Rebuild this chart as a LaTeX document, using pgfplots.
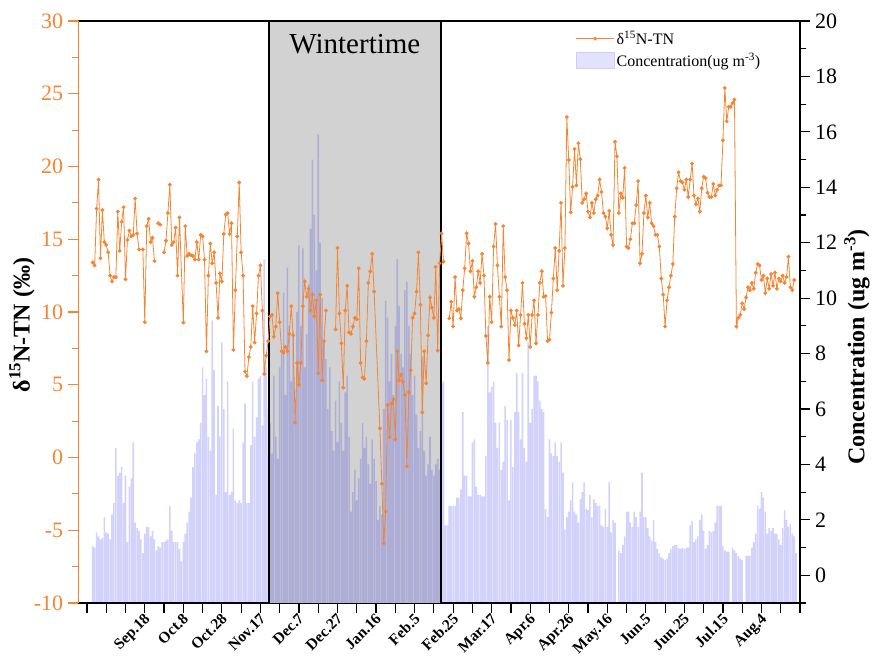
\documentclass[border=0pt]{standalone}
\usepackage{fontspec}
\setmainfont{Liberation Serif}
\usepackage{pgfplots}
\usepackage{pgfplotstable}
\pgfplotsset{compat=1.18}
\definecolor{lorange}{RGB}{245,133,50}
\definecolor{barc}{RGB}{18,18,228}
\definecolor{wgrey}{RGB}{210,210,210}
\pgfplotsset{longline legend/.style={legend image code/.code={\draw[mark repeat=2,mark phase=2,##1] plot coordinates {(0pt,0pt) (19pt,0pt) (38pt,0pt)};}}}

% daily concentration (ug m-3); d = days after Aug.19
\pgfplotstableread{
d c
3 1.05
4 1.0
5 1.55
6 1.4
7 1.3
8 1.35
9 2.1
10 1.55
11 1.5
12 1.3
13 2.2
14 2.6
15 4.6
16 3.6
17 3.7
18 3.9
19 2.6
20 3.6
21 1.2
22 3.2
23 3.5
24 4.8
25 1.9
26 1.7
27 1.6
28 1.3
29 0.8
30 1.5
31 1.75
32 1.75
33 1.4
34 1.6
35 1.3
36 0.9
37 1.05
38 1.0
39 1.2
40 1.2
41 1.25
42 1.3
43 2.5
44 1.6
45 1.2
46 1.2
47 1.2
48 0.95
49 0.5
50 1.2
51 1.5
52 1.9
53 2.3
54 2.8
55 3.9
56 4.4
57 4.8
58 4.9
59 5.5
60 7.5
61 6.5
62 7.1
63 5.0
64 4.5
65 9.2
66 7.4
67 2.9
68 6.1
69 5.0
70 8.4
71 6.0
72 3.0
73 7.0
74 2.9
75 3.0
76 5.3
77 2.7
78 2.6
79 2.7
80 2.6
81 4.8
82 6.2
83 2.6
84 2.6
85 4.7
86 7.0
87 5.0
88 5.7
89 7.1
90 7.2
91 5.4
92 11.4
93 7.5
94 6.0
95 5.5
96 4.4
97 7.2
98 5.0
99 4.2
100 7.5
101 8.0
102 10.2
103 6.5
104 11.1
105 9.0
106 7.0
107 8.8
108 6.0
109 9.5
110 11.9
111 9.0
112 11.8
113 7.5
114 8.7
115 10.5
116 12.5
117 15.0
118 13.0
119 11.0
120 15.9
121 12.0
122 10.0
123 8.5
124 7.8
125 6.0
126 7.5
127 5.2
128 4.5
129 6.3
130 4.8
131 7.0
132 5.5
133 4.5
134 6.6
135 7.2
136 5.0
137 2.3
138 3.0
139 3.8
140 2.7
141 3.5
142 4.2
143 5.5
144 4.6
145 5.0
146 4.0
147 3.3
148 4.9
149 4.2
150 3.4
151 2.0
152 2.5
153 2.2
154 6.0
155 9.9
156 9.3
157 7.0
158 8.0
159 6.5
160 9.0
161 11.4
162 9.7
163 8.0
164 7.5
165 10.3
166 10.6
167 9.0
168 8.0
169 6.5
170 7.2
171 5.8
172 4.6
173 5.2
174 7.9
175 4.5
176 3.6
177 4.0
178 5.0
179 3.8
180 3.6
181 4.0
182 4.2
183 3.8
184 6.9
185 7.0
186 1.8
187 1.8
188 2.5
189 2.5
190 2.5
191 2.5
192 2.8
193 2.8
194 3.1
195 5.9
196 3.6
197 3.6
198 2.85
199 2.85
200 4.8
201 4.9
202 3.2
203 2.9
204 2.9
205 2.85
206 2.85
207 4.3
208 9.0
209 6.6
210 6.8
211 7.0
212 5.5
213 4.6
214 5.5
215 3.8
216 4.1
217 6.1
218 5.6
219 2.7
220 5.6
221 3.9
222 5.9
223 7.3
224 5.9
225 4.9
226 7.3
227 4.6
228 4.1
229 8.4
230 5.5
231 6.0
232 7.2
233 7.2
234 7.0
235 6.3
236 6.0
237 5.9
238 2.4
239 2.1
240 4.9
241 4.4
242 4.3
243 4.8
244 4.3
245 4.1
246 4.8
247 3.7
248 1.65
249 2.1
250 2.3
251 2.7
252 3.35
253 2.3
254 2.2
255 1.9
256 2.75
257 3.0
258 3.35
259 2.4
260 2.35
261 2.9
262 2.1
263 2.75
264 2.6
265 2.5
266 2.5
267 1.8
268 1.75
269 2.4
270 1.75
271 3.35
272 1.55
273 2.0
274 1.9
276 0.9
277 0.8
278 1.1
279 1.4
280 2.3
281 2.3
282 1.9
283 1.75
284 2.3
285 2.1
286 1.75
287 2.3
288 3.7
289 2.1
290 2.1
291 1.7
292 1.4
293 1.25
294 2.0
295 1.2
296 0.95
297 0.8
298 0.65
299 0.6
300 0.55
301 0.6
302 0.8
303 0.95
304 1.05
305 1.1
306 1.1
307 1.0
308 0.95
309 1.0
310 0.95
311 1.0
312 1.0
313 1.8
314 1.95
315 1.2
316 1.3
317 1.4
318 2.0
319 2.2
320 1.6
321 0.95
322 1.1
323 1.6
324 1.55
325 1.6
326 1.9
327 2.5
328 2.5
329 2.5
330 1.05
331 0.9
332 0.85
333 0.85
335 1.0
336 0.9
337 0.8
338 0.7
339 0.6
340 0.55
342 0.7
343 0.7
344 0.7
345 1.0
346 1.2
347 1.5
348 2.5
349 2.4
350 3.0
351 2.8
352 2.3
353 1.5
354 1.7
355 1.6
356 1.7
357 1.5
358 1.5
359 1.3
360 1.1
361 1.7
362 2.35
363 2.0
364 1.75
365 1.85
366 1.5
367 1.4
368 0.8
}\conc

% delta 15N-TN (permil)
\pgfplotstableread{
d v
3 13.4
4 13.2
5 17.1
6 19.1
7 13.7
8 17.0
9 14.8
10 14.6
11 14.1
12 12.5
13 12.1
14 12.4
15 12.4
16 16.9
17 14.2
18 16.2
19 17.2
20 12.25
21 14.95
22 15.6
23 15.2
24 15.3
25 17.8
26 15.4
27 14.3
29 14.3
30 9.3
31 15.9
32 16.4
33 14.8
34 15.1
35 13.5
36 nan
37 16.1
38 16.0
39 nan
40 14.1
41 14.9
42 16.8
43 18.75
44 14.6
45 14.8
46 15.8
47 12.5
48 16.5
50 9.27
51 15.9
52 13.85
53 14.0
54 13.9
55 13.85
56 13.6
57 14.8
58 13.6
59 15.3
60 15.2
61 13.6
62 7.3
63 12.5
64 14.7
65 13.35
66 14.1
67 12.0
68 9.6
69 12.65
70 12.1
71 15.36
72 16.7
73 16.8
74 15.36
75 16.1
76 7.4
77 11.5
78 15.2
79 18.9
80 14.1
81 12.5
82 5.9
83 5.6
84 6.9
85 7.6
86 10.4
87 7.9
88 9.9
89 12.5
90 13.2
91 10.1
92 5.74
93 7.0
94 8.0
95 9.7
96 9.8
97 8.3
98 9.0
99 11.3
100 9.3
101 7.3
102 7.2
103 7.6
104 7.3
105 8.5
106 10.4
107 8.4
108 2.4
109 6.5
110 5.0
111 6.5
112 10.4
113 12.1
114 11.05
115 11.6
116 10.1
117 11.2
118 9.7
119 10.8
120 5.8
121 11.2
122 5.3
123 8.0
124 10.1
125 nan
129 8.8
130 14.4
131 9.9
132 7.85
133 4.8
134 10.1
135 11.8
136 8.6
137 8.5
138 9.0
139 9.6
140 9.5
141 13.0
142 6.5
143 5.5
144 5.4
145 8.0
146 12.0
147 12.8
148 14.0
149 11.4
152 2.0
153 -1.8
154 -5.9
155 -3.7
156 3.6
157 1.4
158 3.7
159 4.0
160 1.25
161 7.3
162 5.3
163 5.7
164 5.2
165 4.3
166 -0.6
167 4.5
168 6.0
169 9.6
170 9.9
171 11.4
172 14.1
173 10.5
174 3.1
175 7.3
176 5.1
177 8.4
178 11.0
179 10.3
180 9.6
181 13.1
182 7.35
183 13.35
184 15.4
185 13.45
186 nan
188 9.56
189 10.7
190 9.0
191 12.4
192 10.1
193 10.2
194 9.56
195 11.5
196 13.0
197 15.4
198 14.7
199 12.8
200 13.5
201 11.05
202 11.7
203 12.8
204 12.0
205 14.0
206 12.5
207 8.35
208 6.5
209 11.05
210 9.3
211 14.5
212 16.05
213 13.2
214 11.05
215 9.0
216 15.9
217 12.4
218 11.5
219 6.7
220 10.1
221 9.6
222 9.1
223 10.1
224 7.7
225 9.8
226 12.0
227 9.2
228 8.2
229 9.8
230 7.6
231 9.8
232 10.8
233 7.85
234 9.8
235 12.0
236 12.8
237 11.05
238 11.1
239 8.0
240 8.1
241 9.95
242 12.3
243 14.4
244 11.5
245 14.2
246 17.5
247 11.8
248 14.4
249 23.4
250 20.45
251 16.85
252 18.6
253 21.2
254 18.7
255 21.6
256 20.5
257 17.5
258 17.75
259 18.15
260 16.9
261 16.5
262 17.5
263 16.8
264 17.75
265 18.0
266 19.1
267 18.25
268 16.8
269 16.55
270 15.75
271 16.95
272 15.3
273 14.6
274 21.7
275 20.7
276 16.8
277 18.15
278 17.85
279 19.9
280 14.5
281 14.4
282 15.0
283 16.1
284 16.1
285 17.35
286 19.0
287 13.35
288 14.0
289 16.8
290 18.0
291 16.5
292 17.5
293 16.1
294 15.9
295 15.3
296 15.3
297 14.5
298 12.3
299 11.2
300 9.0
301 10.8
302 11.7
303 12.5
304 13.3
305 16.55
306 18.5
307 19.6
308 19.0
309 18.9
310 18.4
311 19.1
312 17.9
313 19.1
314 20.2
315 18.0
316 17.4
317 17.8
318 16.9
319 18.5
320 19.3
321 19.2
322 18.2
323 17.9
324 17.9
325 18.8
326 18.0
327 18.4
328 18.7
329 18.7
330 21.8
331 25.4
332 23.1
333 24.1
334 24.1
335 24.35
336 24.6
337 9.0
338 9.6
339 9.8
340 10.6
341 10.2
342 11.0
343 11.7
344 11.5
345 12.0
346 11.6
347 12.7
348 13.3
349 13.2
350 12.2
351 12.5
352 11.3
353 12.3
354 11.6
355 12.6
356 11.8
357 12.7
358 11.6
359 12.3
360 12.1
361 12.5
362 12.0
363 12.4
364 13.8
365 11.7
366 11.5
367 12.2
}\dn

\begin{document}
\begin{tikzpicture}
\useasboundingbox (0pt,0pt) rectangle (872pt,658pt);
% ---- concentration bars (right axis) ----
\begin{axis}[
  at={(78.3pt,55pt)}, anchor=south west, scale only axis,
  width=721.7pt, height=582pt,
  xmin=-4.5, xmax=370, ymin=0, ymax=21,
  axis y line*=right, axis x line*=bottom,
  axis line style={line width=1.2pt, black, -},
  xtick={0,10,...,370},
  xticklabels={,,,Sep.18,,Oct.8,,Oct.28,,Nov.17,,Dec.7,,Dec.27,,Jan.16,,Feb.5,,Feb.25,,Mar.17,,Apr.6,,Apr.26,,May.16,,Jun.5,,Jun.25,,Jul.15,,Aug.4,,},
  ytick={1,3,...,21},
  yticklabels={0,2,4,6,8,10,12,14,16,18,20},
  minor ytick={0,2,...,20},
  tick align=outside,
  major tick length=10pt, minor tick length=6pt,
  tick style={line width=1.2pt, black},
  minor tick style={line width=1.2pt, black},
  xticklabel style={font=\bfseries\fontsize{15.5}{15.5}\selectfont, rotate=45, anchor=north east, inner sep=0.5pt, yshift=2pt},
  yticklabel style={font=\fontsize{22}{22}\selectfont, inner sep=5pt},
]
\fill[wgrey] (axis cs:94.4,0) rectangle (axis cs:183.5,21);
\addplot[ybar, bar width=0.82, fill=barc, fill opacity=0.19, draw=none]
  table[x=d, y expr=\thisrow{c}+1] {\conc};
\draw[line width=1.8pt, black] (axis cs:94.4,0) -- (axis cs:94.4,21);
\draw[line width=1.8pt, black] (axis cs:183.5,0) -- (axis cs:183.5,21);
\draw[line width=1.2pt, black] (rel axis cs:0,1) -- (rel axis cs:1,1);
\node[font=\fontsize{29}{29}\selectfont] at (axis cs:139,20.15) {Wintertime};
\end{axis}
% ---- delta15N line (left axis) ----
\begin{axis}[
  at={(78.3pt,55pt)}, anchor=south west, scale only axis,
  width=721.7pt, height=582pt,
  xmin=-4.5, xmax=370, ymin=-10, ymax=30,
  axis x line=none, axis y line*=left,
  axis line style={line width=1.2pt, lorange, -},
  ytick={-10,-5,...,30}, minor y tick num=1,
  tick align=outside,
  major tick length=10pt, minor tick length=6pt,
  y tick style={line width=1.2pt, lorange},
  minor y tick style={line width=1.2pt, lorange},
  yticklabel style={text=lorange, font=\fontsize{22}{22}\selectfont, inner sep=5pt},
  /pgf/number format/assume math mode=true,
  unbounded coords=jump,
  legend cell align=left,
  legend style={at={(rel axis cs:0.685,0.99)}, anchor=north west, draw=none, fill=none,
    font=\fontsize{16}{18}\selectfont, row sep=3pt},
]
\addplot[lorange, line width=0.8pt, mark=*, mark size=1.5pt,
  mark options={fill=lorange, draw=lorange}, longline legend]
  table[x=d, y=v] {\dn};
\addlegendentry{δ\textsuperscript{15}N-TN}
\addlegendimage{legend image code/.code={\draw[fill=barc, fill opacity=0.12, draw=blue!20, line width=0.6pt] (0pt,-8pt) rectangle (38pt,8pt);}}
\addlegendentry{Concentration(ug m\textsuperscript{-3})}
\end{axis}
\node[rotate=90, font=\bfseries\fontsize{24}{24}\selectfont] at (22pt,333pt) {δ\textsuperscript{15}N-TN (‰)};
\node[rotate=90, font=\bfseries\fontsize{24}{24}\selectfont] at (857pt,311pt) {Concentration (ug m\textsuperscript{-3})};
\end{tikzpicture}
\end{document}
